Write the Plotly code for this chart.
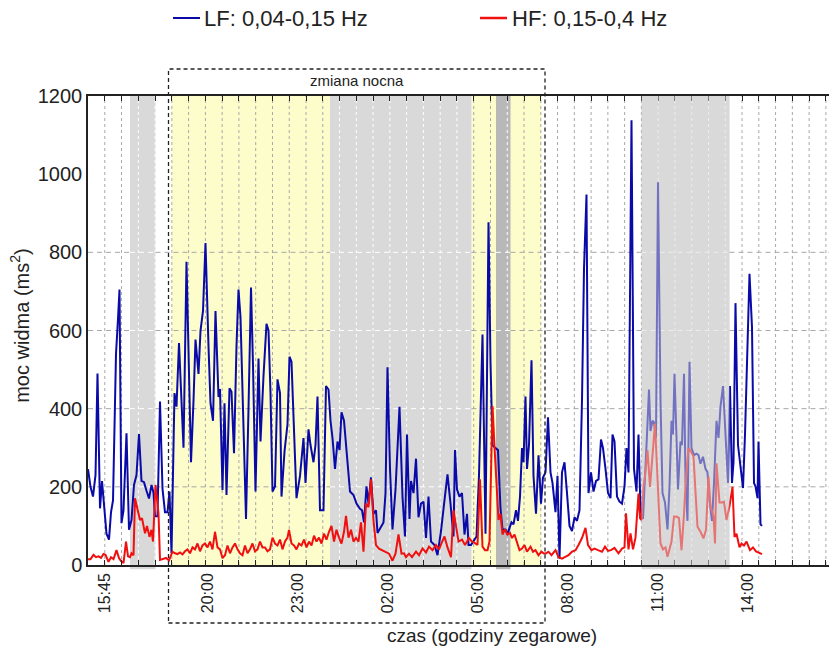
import plotly.graph_objects as go

# ---------------- data (time in minutes from start of recording) ----------------
lf_t = [0, 5, 10, 15, 19, 24, 28, 32, 37, 42, 46, 50, 56, 60, 63, 67, 71, 77, 82, 87, 92, 97, 102, 107, 112, 117,
        122, 127, 131, 134, 139, 144, 149, 154, 159, 163, 167, 173, 177, 182, 187, 191, 197, 202, 206, 211, 215, 221,
        225, 230, 235, 241, 245, 250, 255, 261, 264, 269, 273, 277, 283, 287, 292, 297, 301, 305, 310, 316, 321, 326,
        330, 335, 341, 345, 351, 357, 361, 365, 369, 374, 379, 384, 387, 393, 399, 403, 407, 412, 417, 424, 431, 435,
        441, 445, 451, 455, 459, 464, 471, 476, 481, 485, 489, 494, 499, 503, 507, 512, 517, 524, 531, 537, 544, 548,
        552, 557, 561, 566, 571, 576, 579, 585, 591, 595, 599, 604, 609, 615, 623, 629, 634, 638, 643, 646, 651, 656,
        661, 666, 671, 676, 681, 686, 693, 699, 706, 713, 719, 725, 731, 734, 738, 743, 748, 753, 758, 761, 766, 773,
        777, 782, 789, 795, 801, 805, 809, 815, 820, 825, 829, 835, 839, 843, 847, 851, 856, 860, 864, 868, 871, 875,
        878, 882, 887, 891, 896, 901, 906, 910, 915, 920, 925, 929, 935, 939, 943, 948, 953, 958, 963, 968, 973, 978,
        983, 988, 992, 997, 1001, 1006, 1011, 1016, 1021, 1026, 1030, 1035, 1040, 1045, 1049, 1053, 1058, 1063, 1068,
        1073, 1077, 1081, 1087, 1092, 1097, 1101, 1105, 1110, 1115, 1118, 1122, 1125, 1129, 1132, 1136, 1140, 1145,
        1149, 1154, 1159, 1163, 1167, 1170, 1173, 1177, 1180, 1185, 1188, 1192, 1195, 1199, 1203, 1207, 1212, 1217,
        1221, 1225, 1230, 1235, 1239, 1243, 1248, 1252, 1257, 1261, 1265, 1270, 1275, 1280, 1284, 1288, 1291, 1295,
        1300, 1305, 1310, 1314, 1319, 1323, 1328, 1332, 1335, 1339, 1341, 1345, 1348]
lf_val = [245, 200, 175, 230, 490, 145, 215, 150, 80, 65, 135, 165, 540, 630, 705, 107, 140, 337, 90, 115, 205, 230,
          335, 215, 212, 190, 170, 205, 185, 125, 125, 418, 195, 135, 135, 188, 30, 440, 405, 568, 420, 300, 776, 480,
          263, 420, 577, 489, 599, 650, 824, 560, 414, 369, 650, 430, 450, 192, 414, 179, 452, 443, 286, 560, 705, 634,
          420, 118, 400, 710, 511, 188, 528, 316, 484, 617, 600, 440, 188, 201, 475, 440, 175, 290, 360, 533, 520, 334,
          171, 228, 325, 210, 347, 307, 263, 307, 431, 140, 140, 458, 449, 369, 325, 246, 316, 294, 391, 369, 290, 188,
          179, 157, 144, 140, 109, 201, 157, 224, 131, 140, 82, 95, 109, 184, 506, 246, 91, 193, 405, 175, 73, 334, 118,
          215, 184, 272, 122, 157, 162, 69, 175, 60, 51, 25, 87, 166, 232, 157, 73, 294, 193, 175, 184, 78, 131, 51, 51,
          65, 73, 230, 590, 80, 877, 520, 307, 299, 294, 144, 91, 91, 78, 95, 109, 104, 140, 113, 175, 299, 263, 431,
          246, 307, 524, 228, 131, 281, 157, 224, 237, 378, 237, 210, 135, 228, 16, 237, 263, 184, 100, 87, 122, 113,
          140, 422, 758, 948, 184, 237, 188, 215, 219, 321, 299, 246, 184, 171, 334, 316, 175, 162, 157, 201, 299, 237,
          1138, 246, 188, 334, 140, 118, 237, 334, 449, 343, 369, 365, 325, 979, 422, 184, 160, 91, 200, 369, 334, 489,
          325, 193, 316, 307, 489, 219, 113, 520, 299, 281, 285, 281, 259, 277, 246, 237, 166, 113, 210, 369, 325, 405,
          458, 350, 210, 458, 210, 263, 670, 307, 246, 197, 334, 599, 745, 608, 210, 201, 171, 316, 104, 100]

hf_t = [0, 5, 11, 16, 21, 26, 31, 35, 41, 46, 51, 54, 57, 62, 66, 71, 76, 80, 84, 87, 91, 94, 98, 104, 108, 114, 118,
        123, 127, 130, 135, 141, 144, 150, 156, 162, 169, 174, 179, 184, 189, 194, 199, 204, 209, 214, 219, 224, 229,
        234, 239, 244, 249, 254, 259, 264, 269, 274, 279, 284, 289, 294, 299, 304, 309, 314, 319, 324, 329, 334, 339,
        344, 349, 354, 359, 364, 369, 374, 379, 384, 389, 394, 399, 402, 407, 412, 417, 422, 427, 432, 437, 442, 447,
        452, 457, 462, 467, 472, 477, 482, 487, 492, 497, 502, 507, 512, 516, 521, 526, 531, 536, 541, 546, 551, 556,
        561, 566, 571, 576, 582, 588, 594, 602, 609, 615, 621, 627, 632, 636, 642, 648, 656, 662, 669, 676, 682, 689,
        696, 702, 707, 713, 719, 726, 731, 736, 741, 748, 754, 762, 768, 774, 779, 784, 789, 794, 799, 803, 809, 813,
        816, 821, 825, 829, 834, 839, 844, 848, 853, 858, 863, 868, 873, 878, 885, 890, 895, 901, 907, 911, 915, 921,
        927, 935, 941, 948, 954, 961, 968, 975, 981, 988, 995, 1000, 1007, 1013, 1020, 1028, 1034, 1040, 1046, 1053,
        1061, 1068, 1073, 1076, 1081, 1085, 1090, 1095, 1101, 1104, 1107, 1111, 1115, 1119, 1124, 1127, 1131, 1134,
        1138, 1142, 1145, 1150, 1155, 1159, 1163, 1167, 1172, 1177, 1182, 1187, 1192, 1196, 1201, 1206, 1211, 1215,
        1219, 1225, 1231, 1236, 1241, 1245, 1251, 1254, 1257, 1263, 1267, 1272, 1277, 1283, 1289, 1293, 1297, 1303,
        1307, 1312, 1317, 1324, 1330, 1336, 1343, 1348]
hf_val = [15, 15, 26, 20, 22, 18, 28, 26, 8, 20, 15, 30, 38, 18, 10, 5, 60, 22, 20, 30, 25, 171, 150, 115, 120, 81,
          100, 72, 90, 60, 205, 132, 13, 15, 18, 12, 34, 30, 28, 32, 27, 35, 40, 30, 45, 40, 55, 35, 50, 55, 45, 60,
          40, 85, 45, 40, 18, 25, 50, 30, 45, 55, 40, 30, 25, 50, 30, 40, 55, 35, 40, 60, 45, 45, 35, 40, 70, 55, 50,
          65, 40, 60, 70, 90, 55, 50, 40, 55, 50, 65, 45, 60, 50, 75, 60, 70, 55, 80, 65, 85, 100, 60, 90, 70, 55, 85,
          126, 70, 90, 60, 69, 60, 109, 34, 157, 148, 219, 113, 51, 42, 38, 34, 29, 11, 29, 78, 29, 30, 20, 29, 20, 34,
          25, 42, 32, 47, 38, 51, 40, 56, 73, 45, 20, 140, 95, 60, 65, 51, 69, 60, 56, 51, 219, 47, 38, 38, 60, 407,
          303, 226, 115, 131, 78, 91, 78, 82, 69, 78, 60, 38, 42, 51, 34, 47, 34, 38, 25, 34, 30, 29, 34, 25, 38, 20,
          16, 20, 25, 34, 38, 51, 69, 95, 51, 38, 42, 38, 34, 47, 36, 38, 44, 30, 42, 45, 132, 40, 81, 40, 70, 183, 120,
          115, 200, 239, 294, 200, 250, 307, 362, 250, 149, 55, 40, 45, 21, 40, 60, 124, 124, 120, 38, 130, 226, 299,
          290, 277, 180, 98, 85, 68, 90, 226, 150, 124, 55, 260, 160, 160, 162, 115, 150, 200, 72, 80, 45, 55, 50, 60,
          38, 45, 35, 30, 28]

# shaded activity periods (minutes)
light_gray_spans = [(84, 135), (484, 767), (1107, 1283)]
dark_gray_spans = [(816, 845)]
yellow_spans = [(167, 484), (767, 907)]
overlay_spans = [(1107, 1283)]
night_shift = (161, 914)

tick_pos = [34, 240, 420, 600, 780, 960, 1140, 1320]
tick_text = ["15:45", "20:00", "23:00", "02:00", "05:00", "08:00", "11:00", "14:00"]
grid_step = 33.54
x_max = 1482
y_grid = [200, 400, 600, 800]

FONT = "Liberation Sans, Arial, sans-serif"
BLUE = "#0a0aa8"
RED = "#f01010"
GRAY = "#d9d9d9"
DGRAY = "#b8b8b8"
YELLOW = "#fdfdcb"
GRID = "#a8a8a8"

fig = go.Figure()
fig.add_trace(go.Scatter(x=lf_t, y=lf_val, mode="lines", line=dict(color=BLUE, width=2),
                         name="LF: 0,04-0,15 Hz", showlegend=False))
fig.add_trace(go.Scatter(x=hf_t, y=hf_val, mode="lines", line=dict(color=RED, width=2),
                         name="HF: 0,15-0,4 Hz", showlegend=False))

shapes = []
for a, b in yellow_spans:
    shapes.append(dict(type="rect", xref="x", yref="paper", x0=a, x1=b, y0=0, y1=1,
                       fillcolor=YELLOW, line=dict(width=0), layer="below"))
for a, b in light_gray_spans:
    shapes.append(dict(type="rect", xref="x", yref="paper", x0=a, x1=b, y0=-0.009, y1=1,
                       fillcolor=GRAY, line=dict(width=0), layer="below"))
for a, b in dark_gray_spans:
    shapes.append(dict(type="rect", xref="x", yref="paper", x0=a, x1=b, y0=-0.009, y1=1,
                       fillcolor=DGRAY, line=dict(width=0), layer="below"))

gray_all = light_gray_spans + dark_gray_spans


def in_gray(t):
    return any(a <= t <= b for a, b in gray_all)


# vertical grid
k = 1
grid_t = []
while k * grid_step < x_max:
    t = k * grid_step
    grid_t.append(t)
    col = "#ffffff" if in_gray(t) else GRID
    shapes.append(dict(type="line", xref="x", yref="paper", x0=t, x1=t, y0=0, y1=1,
                       line=dict(color=col, width=1, dash="3px,3px"), layer="below"))
    k += 1

# horizontal grid, split by shaded periods
edges = sorted(set([0, x_max] + [v for s in gray_all for v in s]))
for yv in y_grid:
    for a, b in zip(edges[:-1], edges[1:]):
        col = "#ffffff" if in_gray((a + b) / 2) else GRID
        shapes.append(dict(type="line", xref="x", yref="y", x0=a, x1=b, y0=yv, y1=yv,
                           line=dict(color=col, width=1, dash="5px,4px"), layer="below"))

# semi-transparent overlay over the lines
for a, b in overlay_spans:
    shapes.append(dict(type="rect", xref="x", yref="paper", x0=a, x1=b, y0=0, y1=1,
                       fillcolor=GRAY, opacity=0.5, line=dict(width=0), layer="above"))

# night shift box
shapes.append(dict(type="rect", xref="x", yref="paper", x0=night_shift[0], x1=night_shift[1],
                   y0=-0.1237, y1=1.0576, line=dict(color="#222222", width=1.3, dash="4px,3px"),
                   fillcolor="rgba(0,0,0,0)", layer="above"))

# legend samples
shapes.append(dict(type="line", xref="paper", yref="paper", x0=(173 - 88) / 741, x1=(200 - 88) / 741,
                   y0=1.1663, y1=1.1663, line=dict(color=BLUE, width=2)))
shapes.append(dict(type="line", xref="paper", yref="paper", x0=(480 - 88) / 741, x1=(507 - 88) / 741,
                   y0=1.1663, y1=1.1663, line=dict(color=RED, width=2.5)))

annotations = [
    dict(text="LF: 0,04-0,15 Hz", xref="paper", yref="paper", x=(202 - 88) / 741, y=1.1663,
         xanchor="left", yanchor="middle", showarrow=False, font=dict(size=22, color="#222", family=FONT)),
    dict(text="HF: 0,15-0,4 Hz", xref="paper", yref="paper", x=(510 - 88) / 741, y=1.1663,
         xanchor="left", yanchor="middle", showarrow=False, font=dict(size=22, color="#222", family=FONT)),
    dict(text="zmiana nocna", xref="x", yref="paper", x=(night_shift[0] + night_shift[1]) / 2, y=1.034,
         xanchor="center", yanchor="middle", showarrow=False, font=dict(size=15, color="#222", family=FONT)),
    dict(text="czas (godziny zegarowe)", xref="paper", yref="paper", x=(492 - 88) / 741, y=-0.151,
         xanchor="center", yanchor="middle", showarrow=False, font=dict(size=19, color="#222", family=FONT)),
    dict(text="moc widma (ms<sup>2</sup>)", xref="paper", yref="paper", x=(20 - 88) / 741, y=0.51,
         xanchor="center", yanchor="middle", textangle=-90, showarrow=False,
         font=dict(size=20, color="#222", family=FONT)),
]

fig.update_layout(
    width=829, height=647,
    margin=dict(l=88, r=0, t=96, b=82),
    paper_bgcolor="white", plot_bgcolor="white",
    shapes=shapes, annotations=annotations,
    showlegend=False,
    font=dict(family=FONT, color="#222"),
)
fig.update_xaxes(range=[0, x_max], showgrid=False, zeroline=False,
                 showline=True, linecolor="#222", linewidth=1.5, mirror="ticks",
                 tickvals=tick_pos, ticktext=tick_text, tickangle=-90, ticks="",
                 tickfont=dict(size=16, family=FONT, color="#222"),
                 minor=dict(tickvals=grid_t, ticks="inside", ticklen=5, tickcolor="#222", showgrid=False))
fig.update_yaxes(range=[0, 1200], showgrid=False, zeroline=False,
                 showline=True, linecolor="#222", linewidth=1.5,
                 tickvals=[0, 200, 400, 600, 800, 1000, 1200], ticks="",
                 tickfont=dict(size=20, family=FONT, color="#222"))

fig.write_html("out.html", config={"displayModeBar": False},
               post_script="document.body.style.margin='0';")
